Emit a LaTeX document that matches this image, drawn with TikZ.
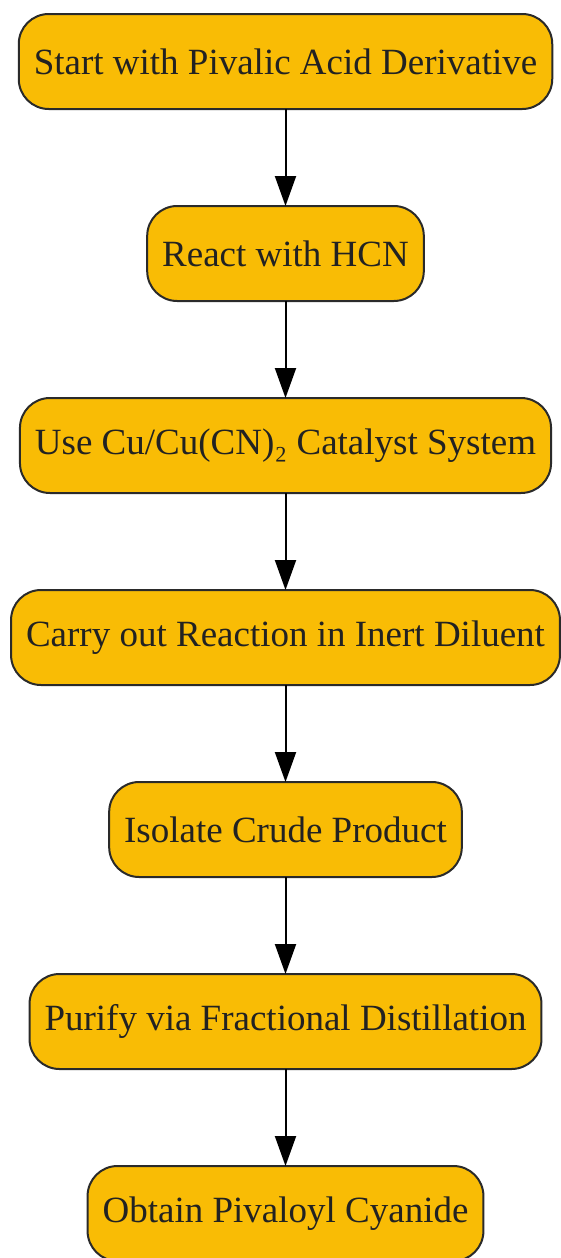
\documentclass[tikz,border=0pt]{standalone}
\usepackage{fontspec}
\setmainfont{Liberation Serif}
\usetikzlibrary{arrows.meta}
\usetikzlibrary{positioning}
\definecolor{boxfill}{HTML}{F9BC05}
\definecolor{boxline}{HTML}{2A2A2A}
\definecolor{boxtext}{HTML}{222222}

\begin{document}
\begin{tikzpicture}[x=1pt,y=1pt]
			\tikzset{stepbox/.style = {shape=rectangle,rounded corners=30pt,draw=boxline,line width=2pt,outer sep=0pt,fill=boxfill,text=boxtext,minimum height=95pt,inner xsep=15pt,font=\fontsize{37}{44}\selectfont}}
			\tikzset{edge/.style = {-{Triangle[length=30pt,width=21pt]},line width=2pt}}
			\useasboundingbox (0,0) rectangle (561,-1258);
			% vertices
			\node[stepbox] (start) at (285.5, -61.5) {Start with Pivalic Acid Derivative};
			\node[stepbox, below=97pt of start] (hcn) {React with HCN};
			\node[stepbox, below=97pt of hcn] (cat) {Use Cu/Cu(CN)₂ Catalyst System};
			\node[stepbox, below=97pt of cat] (dil) {Carry out Reaction in Inert Diluent};
			\node[stepbox, below=97pt of dil] (iso) {Isolate Crude Product};
			\node[stepbox, below=97pt of iso] (dist) {Purify via Fractional Distillation};
			\node[stepbox, below=97pt of dist] (prod) {Obtain Pivaloyl Cyanide};
			% edges
			\draw[edge] (start) -- (hcn);
			\draw[edge] (hcn) -- (cat);
			\draw[edge] (cat) -- (dil);
			\draw[edge] (dil) -- (iso);
			\draw[edge] (iso) -- (dist);
			\draw[edge] (dist) -- (prod);
		\end{tikzpicture}
\end{document}
